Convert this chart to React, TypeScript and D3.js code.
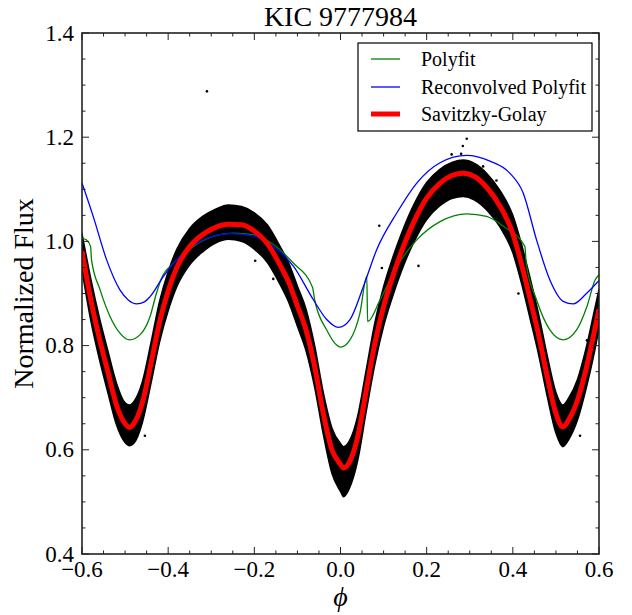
import React from "react";
import * as d3 from "d3";

const W = 632;
const H = 615;

// Savitzky-Golay curve with the envelope of the scattered photometry
const phaseGrid = [-0.6, -0.58, -0.56, -0.54, -0.52, -0.5, -0.49, -0.48, -0.46, -0.44, -0.42, -0.4, -0.38, -0.35, -0.32, -0.29, -0.26, -0.23, -0.2, -0.17, -0.14, -0.12, -0.1, -0.08, -0.06, -0.04, -0.02, 0.0, 0.007, 0.02, 0.04, 0.06, 0.08, 0.1, 0.12, 0.14, 0.17, 0.2, 0.23, 0.26, 0.285, 0.31, 0.34, 0.37, 0.4, 0.42, 0.44, 0.46, 0.48, 0.5, 0.516, 0.53, 0.55, 0.57, 0.59, 0.6];
const sgFlux = [0.981, 0.89, 0.815, 0.75, 0.686, 0.65, 0.643, 0.65, 0.69, 0.765, 0.845, 0.905, 0.95, 0.99, 1.013, 1.027, 1.033, 1.032, 1.02, 0.996, 0.954, 0.921, 0.876, 0.83, 0.76, 0.67, 0.6, 0.572, 0.565, 0.575, 0.625, 0.715, 0.805, 0.875, 0.93, 0.977, 1.037, 1.083, 1.111, 1.127, 1.131, 1.125, 1.103, 1.068, 1.015, 0.957, 0.89, 0.82, 0.74, 0.67, 0.644, 0.658, 0.695, 0.755, 0.83, 0.87];
const dataUpper = [1.015, 0.93, 0.855, 0.79, 0.728, 0.69, 0.686, 0.692, 0.73, 0.805, 0.885, 0.942, 0.985, 1.025, 1.048, 1.062, 1.07, 1.067, 1.055, 1.032, 0.99, 0.958, 0.914, 0.87, 0.8, 0.71, 0.642, 0.612, 0.606, 0.616, 0.665, 0.755, 0.845, 0.913, 0.966, 1.012, 1.07, 1.113, 1.138, 1.152, 1.156, 1.15, 1.13, 1.098, 1.05, 0.995, 0.93, 0.86, 0.78, 0.71, 0.686, 0.7, 0.735, 0.795, 0.87, 0.908];
const dataLower = [0.945, 0.85, 0.775, 0.71, 0.648, 0.614, 0.608, 0.612, 0.652, 0.727, 0.807, 0.867, 0.913, 0.955, 0.98, 0.997, 1.004, 1.0, 0.985, 0.96, 0.917, 0.883, 0.837, 0.79, 0.72, 0.63, 0.555, 0.52, 0.51, 0.525, 0.58, 0.675, 0.765, 0.837, 0.892, 0.94, 0.998, 1.042, 1.068, 1.083, 1.086, 1.08, 1.06, 1.028, 0.978, 0.92, 0.852, 0.782, 0.702, 0.632, 0.606, 0.62, 0.657, 0.717, 0.79, 0.832];

// isolated data points away from the band
const outlierPhase = [-0.31, 0.293, 0.284, 0.28, 0.258, 0.09, 0.096, 0.181, 0.413, 0.556, 0.362, 0.331, 0.173, 0.572, -0.198, -0.156, -0.117, -0.454, -0.171];
const outlierFlux = [1.288, 1.197, 1.183, 1.168, 1.167, 1.03, 0.949, 0.953, 0.9, 0.627, 1.117, 1.144, 1.066, 0.81, 0.963, 0.928, 0.944, 0.627, 1.016];

// Polyfit (green)
const polyPhase = [-0.6, -0.59, -0.58, -0.578, -0.558, -0.535, -0.512, -0.489, -0.465, -0.442, -0.427, -0.415, -0.388, -0.342, -0.295, -0.249, -0.202, -0.156, -0.109, -0.065, -0.06, -0.032, -0.009, 0.0, 0.022, 0.045, 0.061, 0.063, 0.092, 0.131, 0.177, 0.231, 0.293, 0.339, 0.378, 0.428, 0.431, 0.455, 0.486, 0.517, 0.548, 0.572, 0.591, 0.6];
const polyFlux = [1.006, 1.003, 0.99, 0.965, 0.907, 0.856, 0.824, 0.811, 0.821, 0.856, 0.901, 0.93, 0.958, 0.99, 1.01, 1.016, 1.013, 0.994, 0.958, 0.912, 0.888, 0.83, 0.801, 0.797, 0.811, 0.862, 0.933, 0.846, 0.888, 0.952, 1.003, 1.038, 1.053, 1.048, 1.029, 0.99, 0.958, 0.888, 0.83, 0.811, 0.83, 0.875, 0.926, 0.936];

// Reconvolved Polyfit (blue)
const reconPhase = [-0.6, -0.574, -0.543, -0.512, -0.492, -0.473, -0.455, -0.442, -0.411, -0.373, -0.326, -0.256, -0.202, -0.156, -0.109, -0.063, -0.032, -0.005, 0.022, 0.053, 0.084, 0.131, 0.177, 0.231, 0.293, 0.347, 0.393, 0.424, 0.455, 0.486, 0.517, 0.54, 0.572, 0.6];
const reconFlux = [1.112, 1.048, 0.965, 0.907, 0.887, 0.88, 0.884, 0.894, 0.933, 0.971, 1.0, 1.015, 1.01, 0.99, 0.952, 0.888, 0.85, 0.835, 0.85, 0.913, 0.984, 1.055, 1.112, 1.151, 1.165, 1.154, 1.131, 1.093, 1.003, 0.926, 0.885, 0.88, 0.901, 0.925];

const xMajor = [-0.6, -0.4, -0.2, 0.0, 0.2, 0.4, 0.6];
const xMajorLabels = ["\u22120.6", "\u22120.4", "\u22120.2", "0.0", "0.2", "0.4", "0.6"];
const yMajor = [0.4, 0.6, 0.8, 1.0, 1.2, 1.4];
const yMajorLabels = ["0.4", "0.6", "0.8", "1.0", "1.2", "1.4"];
const xMinor = [-0.55, -0.5, -0.45, -0.35, -0.3, -0.25, -0.15, -0.1, -0.05, 0.05, 0.1, 0.15, 0.25, 0.3, 0.35, 0.45, 0.5, 0.55];
const yMinor = [0.45, 0.5, 0.55, 0.65, 0.7, 0.75, 0.85, 0.9, 0.95, 1.05, 1.1, 1.15, 1.25, 1.3, 1.35];

const legendLabels = ["Polyfit", "Reconvolved Polyfit", "Savitzky-Golay"];
const legendColors = ["#008000", "#0000ff", "#ff0000"];
const legendWidths = [1.3, 1.3, 5];

const L = 82, R = 599, T = 33, B = 554;
const FONT = "'Liberation Serif', 'Times New Roman', serif";
const AX = "#222";

export default function App() {
  const x = d3.scaleLinear().domain([-0.6, 0.6]).range([L, R]);
  const y = d3.scaleLinear().domain([0.4, 1.4]).range([B, T]);

  const band = d3
    .area<number>()
    .x((i) => x(phaseGrid[i]))
    .y0((i) => y(dataLower[i]))
    .y1((i) => y(dataUpper[i]))
    .curve(d3.curveMonotoneX)(phaseGrid.map((_, i) => i));

  const lineOf = (px: number[], fy: number[]) =>
    d3
      .line<number>()
      .x((i) => x(px[i]))
      .y((i) => y(fy[i]))
      .curve(d3.curveMonotoneX)(px.map((_, i) => i));

  const sgPath = lineOf(phaseGrid, sgFlux);
  const polyPath = lineOf(polyPhase, polyFlux);
  const reconPath = lineOf(reconPhase, reconFlux);

  const legX = 358, legY = 43, legW = 234, legH = 88;
  const rowY = [59, 87, 114];

  return (
    <svg
      width={W}
      height={H}
      style={{ position: "fixed", left: 0, top: 0, background: "#fff" }}
      fontFamily={FONT}
    >
      <rect x={0} y={0} width={W} height={H} fill="#fff" />
      <defs>
        <clipPath id="plotclip">
          <rect x={L} y={T} width={R - L} height={B - T} />
        </clipPath>
      </defs>
      <g clipPath="url(#plotclip)">
        <path d={band || ""} fill="#000" stroke="#000" strokeWidth={1.5} strokeLinejoin="round" />
        {outlierPhase.map((p, i) => (
          <circle key={i} cx={x(p)} cy={y(outlierFlux[i])} r={1.3} fill="#000" />
        ))}
        <path d={polyPath || ""} fill="none" stroke="#008000" strokeWidth={1.3} />
        <path d={reconPath || ""} fill="none" stroke="#0000ff" strokeWidth={1.3} />
        <path d={sgPath || ""} fill="none" stroke="#ff0000" strokeWidth={5} strokeLinejoin="round" />
      </g>

      {/* ticks */}
      <g stroke={AX} strokeWidth={1}>
        {xMajor.map((v, i) => (
          <g key={"xm" + i}>
            <line x1={x(v)} x2={x(v)} y1={B} y2={B - 7} />
            <line x1={x(v)} x2={x(v)} y1={T} y2={T + 7} />
          </g>
        ))}
        {xMinor.map((v, i) => (
          <g key={"xn" + i}>
            <line x1={x(v)} x2={x(v)} y1={B} y2={B - 3.5} />
            <line x1={x(v)} x2={x(v)} y1={T} y2={T + 3.5} />
          </g>
        ))}
        {yMajor.map((v, i) => (
          <g key={"ym" + i}>
            <line x1={L} x2={L + 7} y1={y(v)} y2={y(v)} />
            <line x1={R} x2={R - 7} y1={y(v)} y2={y(v)} />
          </g>
        ))}
        {yMinor.map((v, i) => (
          <g key={"yn" + i}>
            <line x1={L} x2={L + 3.5} y1={y(v)} y2={y(v)} />
            <line x1={R} x2={R - 3.5} y1={y(v)} y2={y(v)} />
          </g>
        ))}
      </g>
      <rect x={L} y={T} width={R - L} height={B - T} fill="none" stroke={AX} strokeWidth={1.6} />

      {/* tick labels */}
      {xMajor.map((v, i) => (
        <text key={"xl" + i} x={x(v)} y={577} fontSize={23} textAnchor="middle" fill="#000">
          {xMajorLabels[i]}
        </text>
      ))}
      {yMajor.map((v, i) => (
        <text key={"yl" + i} x={L - 8} y={y(v) + 7.5} fontSize={23} textAnchor="end" fill="#000">
          {yMajorLabels[i]}
        </text>
      ))}

      <text x={(L + R) / 2} y={26} fontSize={28} textAnchor="middle" fill="#000">
        KIC 9777984
      </text>
      <text
        transform={`translate(33, ${(T + B) / 2}) rotate(-90)`}
        fontSize={28}
        textAnchor="middle"
        fill="#000"
      >
        Normalized Flux
      </text>
      <text x={(L + R) / 2} y={606} fontSize={28} fontStyle="italic" textAnchor="middle" fill="#000">
        {"\u03d5"}
      </text>

      {/* legend */}
      <rect x={legX} y={legY} width={legW} height={legH} fill="#fff" stroke="#000" strokeWidth={1.2} />
      {legendLabels.map((lab, i) => (
        <g key={"lg" + i}>
          <line x1={371} x2={400} y1={rowY[i]} y2={rowY[i]} stroke={legendColors[i]} strokeWidth={legendWidths[i]} />
          <text x={421} y={rowY[i] + 7} fontSize={20} fill="#000">
            {lab}
          </text>
        </g>
      ))}
    </svg>
  );
}
